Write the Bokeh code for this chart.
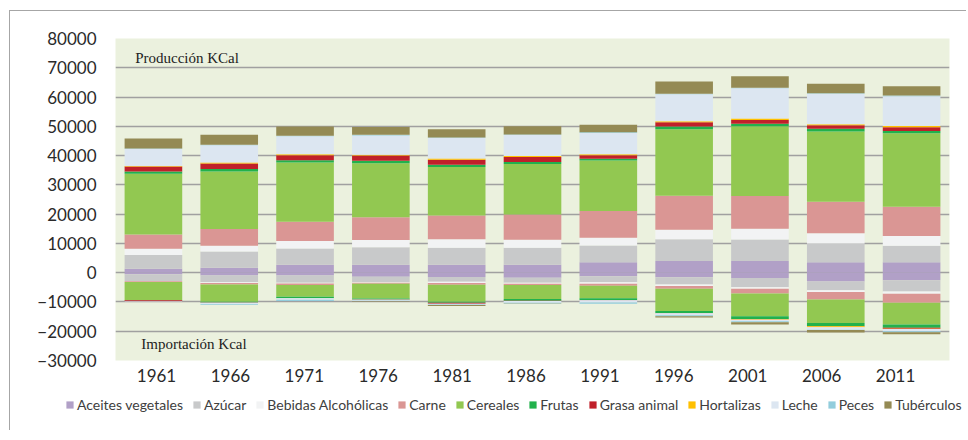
from bokeh.plotting import figure
from bokeh.models import (ColumnDataSource, FixedTicker, Legend, LegendItem, Label,
                          LinearAxis, Range1d)
from bokeh.embed import file_html
from bokeh.resources import INLINE

years = ["1961", "1966", "1971", "1976", "1981", "1986", "1991", "1996", "2001", "2006", "2011"]
categories = ["Aceites vegetales", "Azúcar", "Bebidas Alcohólicas", "Carne", "Cereales", "Frutas",
              "Grasa animal", "Hortalizas", "Leche", "Peces", "Tubérculos"]
colors = ["#B1A0C7", "#C8C9CA", "#F2F3F4", "#DA9694", "#92C851", "#22B14C",
          "#C0202A", "#FFC000", "#DCE6F1", "#92CDDC", "#948A54"]

# Producción (kcal, positive)
aceites_p = [1360, 1700, 2700, 2700, 2700, 2700, 3600, 4000, 4000, 3600, 3600]
azucar_p = [4700, 5500, 5600, 6000, 5800, 5800, 5700, 7400, 7300, 6400, 5600]
bebidas_p = [2100, 2000, 2500, 2500, 2900, 2750, 2600, 3300, 3700, 3500, 3300]
carne_p = [4900, 5700, 6600, 7700, 8100, 8650, 9200, 11600, 11200, 10700, 10050]
cereales_p = [20700, 19700, 20200, 18500, 16600, 17200, 17200, 22700, 23800, 24000, 25050]
frutas_p = [800, 800, 800, 800, 800, 700, 600, 900, 900, 1000, 800]
grasa_p = [1700, 1900, 1700, 1800, 1700, 1700, 1200, 1500, 1250, 1150, 1250]
hortalizas_p = [200, 300, 400, 300, 400, 400, 350, 350, 550, 350, 450]
leche_p = [5800, 5900, 6100, 6600, 7000, 7100, 7300, 9200, 10300, 10400, 10200]
peces_p = [200, 200, 200, 200, 200, 200, 200, 200, 200, 200, 200]
tuberculos_p = [3400, 3400, 3100, 2700, 2800, 2800, 2600, 4200, 3900, 3200, 3200]

# Importación (kcal, negative)
aceites_i = [-570, -1000, -1000, -1400, -1500, -1700, -1250, -1600, -1800, -3000, -2600]
azucar_i = [-2300, -2300, -2400, -1800, -1600, -1700, -2050, -2400, -3200, -3000, -3800]
bebidas_i = [-50, -200, -300, -200, -400, -400, -450, -550, -450, -600, -800]
carne_i = [-300, -500, -500, -400, -600, -400, -700, -900, -1700, -2600, -3100]
cereales_i = [-6100, -5900, -4000, -5000, -5800, -4800, -4300, -7600, -7700, -8000, -7400]
frutas_i = [-100, -300, -500, -400, -400, -550, -600, -700, -1000, -1000, -1100]
grasa_i = [-300, -50, -50, -50, -300, -100, -50, -100, -100, -100, -350]
hortalizas_i = [0, 0, 0, 0, 0, 0, 0, -50, -100, -300, -100]
leche_i = [-200, -500, -500, -300, -300, -600, -800, -600, -550, -900, -800]
peces_i = [0, -300, -400, -100, -100, -300, -400, -400, -300, -100, -300]
tuberculos_i = [0, 0, 0, -200, -400, -100, -50, -400, -800, -800, -700]

y_ticks = [-30000, -20000, -10000, 0, 10000, 20000, 30000, 40000, 50000, 60000, 70000, 80000]

pos_keys = ["p%d" % i for i in range(len(categories))]
neg_keys = ["n%d" % i for i in range(len(categories))]
pos_lists = [aceites_p, azucar_p, bebidas_p, carne_p, cereales_p, frutas_p, grasa_p,
             hortalizas_p, leche_p, peces_p, tuberculos_p]
neg_lists = [aceites_i, azucar_i, bebidas_i, carne_i, cereales_i, frutas_i, grasa_i,
             hortalizas_i, leche_i, peces_i, tuberculos_i]

n = len(years)
data = {"year": years, "xc": [i + 0.5 for i in range(n)]}
for k, v in zip(pos_keys, pos_lists):
    data[k] = v
for k, v in zip(neg_keys, neg_lists):
    data[k] = v
source = ColumnDataSource(data)

BORDER = "1px solid #a6a6a6"

p = figure(x_range=Range1d(0, n), y_range=(-30000, 80000),
           frame_width=834, frame_height=322,
           output_backend="svg", toolbar_location=None,
           min_border_left=105, min_border_right=17, min_border_top=27, min_border_bottom=30)

p.background_fill_color = "#EBF1DE"
p.border_fill_color = "white"
p.outline_line_color = None
p.styles = {"margin-left": "9px", "margin-top": "10px",
            "border-left": BORDER, "border-top": BORDER}

pos_r = p.vbar_stack(pos_keys, x="xc", width=0.76, color=colors, source=source, line_color=None)
neg_r = p.vbar_stack(neg_keys, x="xc", width=0.76, color=colors, source=source, line_color=None)

p.xgrid.grid_line_color = None
p.ygrid.grid_line_color = "#a0a0a0"
p.ygrid.grid_line_width = 1.5
p.yaxis.ticker = FixedTicker(ticks=y_ticks)
p.xaxis.visible = False

# year label axis (Excel-style spacing of the category labels)
p.extra_x_ranges = {"lab": Range1d(start=-0.555, end=10.73)}
lab_axis = LinearAxis(x_range_name="lab", ticker=FixedTicker(ticks=list(range(n))),
                      major_label_overrides={i: y for i, y in enumerate(years)})
p.add_layout(lab_axis, "below")

for ax in (lab_axis, p.yaxis[0]):
    ax.axis_line_color = None
    ax.major_tick_line_color = None
    ax.minor_tick_line_color = None
    ax.major_tick_out = 0
    ax.major_tick_in = 0
    ax.minor_tick_out = 0
    ax.major_label_text_font = "Lato"
    ax.major_label_text_font_size = "17px"
    ax.major_label_text_color = "#2a2a2a"
p.yaxis.major_label_standoff = 19
lab_axis.major_label_standoff = 8

p.add_layout(Label(x=0.26, y=73500, text="Producción KCal", text_font="Liberation Serif",
                   text_font_size="15px", text_baseline="middle", text_color="#222222"))
p.add_layout(Label(x=0.34, y=-24200, text="Importación Kcal", text_font="Liberation Serif",
                   text_font_size="15px", text_baseline="middle", text_color="#222222"))

# legend strip below the chart (separate root, so its frame is not aligned to the chart's)
pl = figure(width=952, height=40, x_range=Range1d(0, n), y_range=Range1d(500000, 500001),
            x_axis_location=None, y_axis_location=None,
            output_backend="svg", toolbar_location=None,
            min_border_left=0, min_border_right=0, min_border_top=0, min_border_bottom=0)
pl.outline_line_color = None
pl.grid.grid_line_color = None
pl.background_fill_color = "white"
pl.border_fill_color = "white"
pl.styles = {"margin-left": "9px", "border-left": BORDER}

leg_renderers = pl.vbar_stack(pos_keys, x="xc", width=0.76, color=colors, source=source,
                              line_color=None)
items = [LegendItem(label=c, renderers=[r]) for c, r in zip(categories, leg_renderers)]
legend = Legend(items=items, orientation="horizontal", location=(55, 17),
                label_text_font="Lato", label_text_font_size="14px", label_text_color="#404040",
                glyph_width=9, glyph_height=9, label_standoff=3, spacing=9,
                padding=0, margin=0, border_line_color=None, background_fill_color=None,
                background_fill_alpha=0)
pl.add_layout(legend, "center")

open("out.html", "w").write(file_html([p, pl], INLINE))
